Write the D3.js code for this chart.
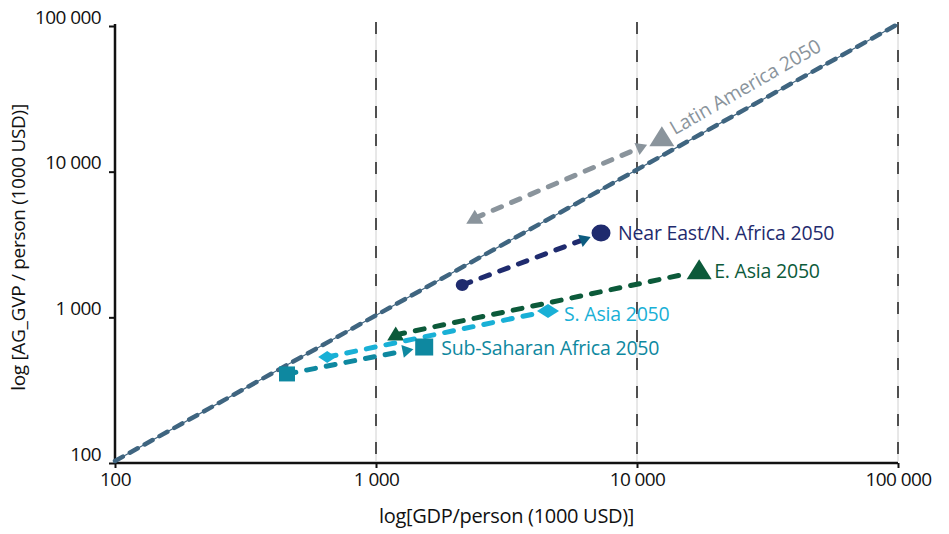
<!DOCTYPE html>
<html>
<head>
<meta charset="utf-8">
<script src="https://cdn.jsdelivr.net/npm/d3@7"></script>
<style>
  body { margin: 0; background: #fff; }
  svg { font-family: "Open Sans", "Noto Sans", sans-serif; }
</style>
</head>
<body>
<svg id="chart" width="949" height="534"></svg>
<script>
// Regions: start (today) and 2050 values
const regions   = ['Latin America', 'Near East/N. Africa', 'E. Asia', 'S. Asia', 'Sub-Saharan Africa'];
const gdpStart  = [2390, 2140, 1190, 650, 456];
const agStart   = [4650, 1615, 735, 517, 396];
const gdp2050   = [12450, 7280, 17300, 4560, 1530];
const ag2050    = [16400, 3670, 2010, 1070, 606];
const labels    = ['Latin America 2050', 'Near East/N. Africa 2050', 'E. Asia 2050', 'S. Asia 2050', 'Sub-Saharan Africa 2050'];
const colours   = ['#8a949c', '#1f2b6e', '#0c5a3a', '#19b0d6', '#0e88a0'];
const shapes    = ['triangle', 'circle', 'triangle', 'diamond', 'square'];
const arrows    = [true, true, false, false, true];
const tickVals  = [100, 1000, 10000, 100000];
const tickText  = ['100', '1 000', '10 000', '100 000'];

const svg = d3.select('#chart');
const W = 949, H = 534;
const m = { left: 115, right: 51, top: 24, bottom: 72 };

const x = d3.scaleLog().domain([100, 100000]).range([m.left, W - m.right]);
const y = d3.scaleLog().domain([100, 100000]).range([H - m.bottom - 1, m.top]);

// vertical dashed grid lines
const grid = svg.append('g');
tickVals.slice(1).forEach(v => {
  grid.append('line')
    .attr('x1', x(v)).attr('x2', x(v))
    .attr('y1', y(100000) - 2).attr('y2', y(100))
    .attr('stroke', '#c4c4c4').attr('stroke-width', 0.8);
  grid.append('line')
    .attr('x1', x(v)).attr('x2', x(v))
    .attr('y1', y(100000) - 2).attr('y2', y(100))
    .attr('stroke', '#111').attr('stroke-width', 1.4)
    .attr('stroke-dasharray', '12,16');
});

// axes
const xAxis = svg.append('g')
  .attr('transform', `translate(0,${y(100) + 2})`)
  .call(d3.axisBottom(x).tickValues(tickVals).tickFormat((d, i) => tickText[i]).tickSize(5).tickPadding(5));
const yAxis = svg.append('g')
  .attr('transform', `translate(${x(100)},0)`)
  .call(d3.axisLeft(y).tickValues(tickVals).tickFormat((d, i) => tickText[i]).tickSize(6).tickPadding(8));
[xAxis, yAxis].forEach(a => {
  a.select('.domain').attr('stroke', '#111').attr('stroke-width', 2.5);
  a.selectAll('.tick line').attr('stroke', '#111').attr('stroke-width', 2);
  a.selectAll('.tick text').attr('fill', '#111').attr('font-size', 19)
    .attr('font-family', '"Open Sans", sans-serif').style('letter-spacing', '-0.6px');
});
xAxis.select('.domain').attr('d', `M${x(100)},0H${x(100000)}`);
yAxis.select('.domain').attr('d', `M0,${y(100) + 2}V${y(100000)}`);
yAxis.selectAll('.tick line').attr('y1', 2).attr('y2', 2);
yAxis.selectAll('.tick text').attr('dy', '-0.05em');

// axis titles
svg.append('text')
  .attr('x', x(1000) + 3).attr('y', H - 11)
  .attr('font-size', 20).attr('fill', '#111').style('letter-spacing', '-0.3px')
  .text('log[GDP/person (1000 USD)]');
svg.append('text')
  .attr('transform', `translate(25,${(y(100) + y(100000)) / 2 + 5}) rotate(-90)`)
  .attr('text-anchor', 'middle')
  .attr('font-size', 19).attr('fill', '#111').style('letter-spacing', '-0.3px')
  .text('log [AG_GVP / person (1000 USD)]');

// 1:1 diagonal
const diag = svg.append('g');
diag.append('line')
  .attr('x1', x(100)).attr('y1', y(100)).attr('x2', x(100000)).attr('y2', y(100000))
  .attr('stroke', '#3f6580').attr('stroke-width', 1.2);
diag.append('line')
  .attr('x1', x(100)).attr('y1', y(100)).attr('x2', x(100000)).attr('y2', y(100000))
  .attr('stroke', '#3f6580').attr('stroke-width', 4.5)
  .attr('stroke-linecap', 'round').attr('stroke-dasharray', '9,8');

// marker path generators (w = width, h = height)
function shapePath(type, w, h) {
  if (type === 'triangle') return `M0,${-h * 0.6}L${w / 2},${h * 0.4}L${-w / 2},${h * 0.4}Z`;
  if (type === 'diamond') return `M${-w / 2},0L0,${-h / 2}L${w / 2},0L0,${h / 2}Z`;
  if (type === 'square') return `M${-w / 2},${-h / 2}h${w}v${h}h${-w}Z`;
  const rx = w / 2, ry = h / 2;
  return `M${-rx},0A${rx},${ry} 0 1,0 ${rx},0A${rx},${ry} 0 1,0 ${-rx},0Z`;
}
const startDims = { triangle: [17, 14], circle: [13, 12], diamond: [18, 12], square: [16, 15] };
const endDims   = { triangle: [25, 20], circle: [19, 17], diamond: [22, 14], square: [18, 17] };

const series = svg.append('g');
regions.forEach((r, i) => {
  const x0 = x(gdpStart[i]), y0 = y(agStart[i]);
  const x1 = x(gdp2050[i]), y1 = y(ag2050[i]);
  const ang = Math.atan2(y1 - y0, x1 - x0);
  const back = shapes[i] === 'triangle' ? 16 : 11;
  const ex = x1 - Math.cos(ang) * back, ey = y1 - Math.sin(ang) * back;
  const g = series.append('g');

  const lineEnd = arrows[i] ? 9 : 0;
  g.append('line')
    .attr('x1', x0).attr('y1', y0)
    .attr('x2', ex - Math.cos(ang) * lineEnd).attr('y2', ey - Math.sin(ang) * lineEnd)
    .attr('stroke', colours[i]).attr('stroke-width', 5).attr('stroke-linecap', 'round')
    .attr('stroke-dasharray', '9,11');

  // arrowhead near the 2050 marker
  if (arrows[i]) {
    const ah = 11, aw = 6.5;
    const bx = ex - Math.cos(ang) * ah, by = ey - Math.sin(ang) * ah;
    g.append('path')
      .attr('d', `M${ex},${ey}L${bx - Math.sin(ang) * aw},${by + Math.cos(ang) * aw}L${bx + Math.sin(ang) * aw},${by - Math.cos(ang) * aw}Z`)
      .attr('fill', i === 1 ? '#0d5c80' : colours[i]);
  }

  // start marker (small) and 2050 marker (large)
  const sd = startDims[shapes[i]], ed = endDims[shapes[i]];
  g.append('path')
    .attr('transform', `translate(${x0},${y0})`)
    .attr('d', shapePath(shapes[i], sd[0], sd[1]))
    .attr('fill', colours[i]);
  g.append('path')
    .attr('transform', `translate(${x1},${y1})`)
    .attr('d', shapePath(shapes[i], ed[0], ed[1]))
    .attr('fill', colours[i]);
});

// labels
const labelPos = [
  { dx: 13, dy: -3 },
  { dx: 17, dy: 7 },
  { dx: 15, dy: 7 },
  { dx: 16, dy: 10 },
  { dx: 17, dy: 8 }
];
regions.forEach((r, i) => {
  const lx = x(gdp2050[i]) + labelPos[i].dx, ly = y(ag2050[i]) + labelPos[i].dy;
  svg.append('text')
    .attr('transform', i === 0 ? `translate(${lx},${ly}) rotate(-30)` : `translate(${lx},${ly})`)
    .attr('font-size', 19.5).attr('fill', colours[i]).style('letter-spacing', '-0.2px')
    .text(labels[i]);
});
</script>
</body>
</html>
